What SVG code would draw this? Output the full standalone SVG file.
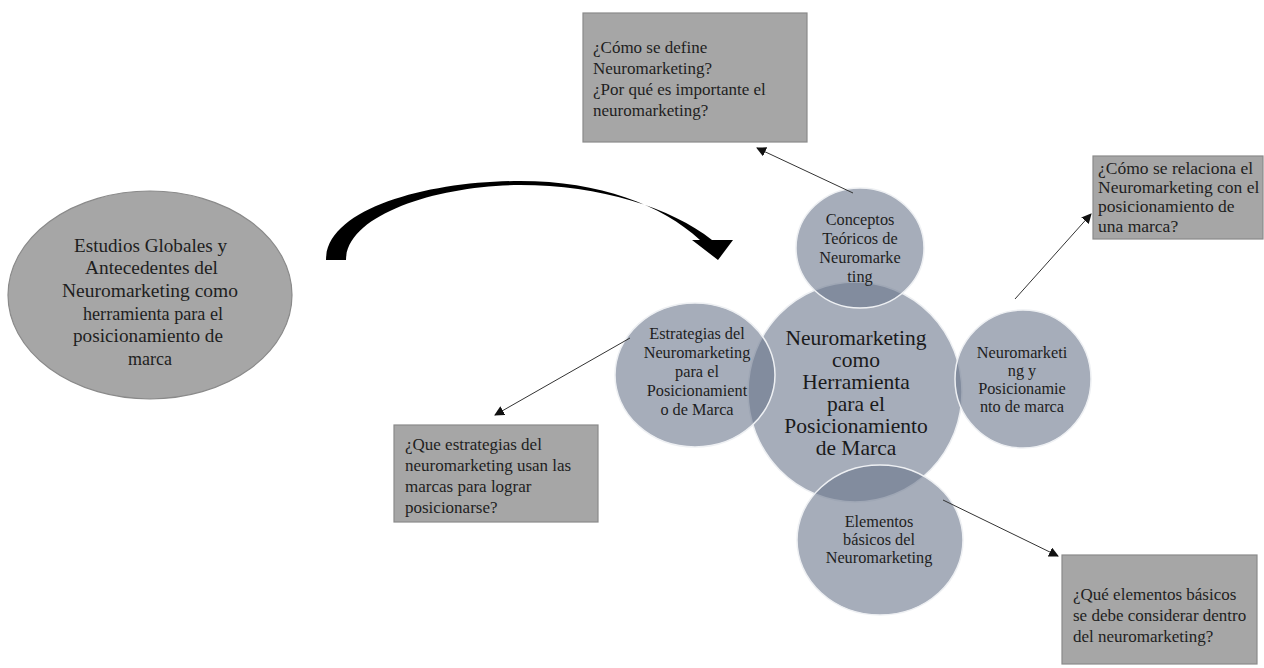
<svg xmlns="http://www.w3.org/2000/svg" width="1264" height="668" viewBox="0 0 1264 668">
<defs>
<style>
.box{fill:#a6a6a6;stroke:#8a8a8a;stroke-width:1.2}
.bt{font-family:"Liberation Serif","Times New Roman",serif;font-size:17px;fill:#1e1e1e}
.et{font-family:"Liberation Serif","Times New Roman",serif;font-size:18px;fill:#1e1e1e}
.ct{font-family:"Liberation Serif","Times New Roman",serif;font-size:16.3px;fill:#1e1e1e;text-anchor:middle}
.big{font-family:"Liberation Serif","Times New Roman",serif;font-size:21.5px;fill:#1a1a1a;text-anchor:middle}
.circ{fill:#6b778c;fill-opacity:0.6;stroke:#eef0f3;stroke-width:1.5}
.conn{stroke:#333;stroke-width:1;fill:none;marker-end:url(#ah)}
</style>
<marker id="ah" viewBox="0 0 10 10" refX="9" refY="5" markerWidth="10" markerHeight="10" markerUnits="userSpaceOnUse" orient="auto">
<path d="M0,0 L10,5 L0,10 Z" fill="#111"/>
</marker>
</defs>
<rect width="1264" height="668" fill="#fff"/>

<g id="n-estudios">
<ellipse cx="150" cy="295" rx="142" ry="104" fill="#a6a6a6" stroke="#8a8a8a" stroke-width="1.2"/>
<text class="et"><tspan x="74" y="252" textLength="153" lengthAdjust="spacingAndGlyphs">Estudios Globales y</tspan><tspan x="85" y="274" textLength="133" lengthAdjust="spacingAndGlyphs">Antecedentes del</tspan><tspan x="62" y="297" textLength="176" lengthAdjust="spacingAndGlyphs">Neuromarketing como</tspan><tspan x="83" y="320" textLength="140" lengthAdjust="spacingAndGlyphs">herramienta para el</tspan><tspan x="73" y="342" textLength="150" lengthAdjust="spacingAndGlyphs">posicionamiento de</tspan><tspan x="150" y="365" text-anchor="middle">marca</tspan></text>
</g>

<g id="big-arrow">
<path d="M326,260 C326,208 430,181 520,181 C600,181 662,205 700,240 L692,240 L718,260 L733,240 L712,240 C672,208 600,185 520,185 C440,185 346,214 346,260 Z" fill="#000"/>
</g>

<g id="circles">
<ellipse id="c-center" class="circ" cx="855" cy="392" rx="107" ry="110"/>
<ellipse id="c-top" class="circ" cx="860" cy="248" rx="64" ry="60"/>
<ellipse id="c-left" class="circ" cx="695" cy="375" rx="80" ry="72"/>
<ellipse id="c-right" class="circ" cx="1023" cy="379" rx="68" ry="69"/>
<ellipse id="c-bottom" class="circ" cx="880" cy="540" rx="83" ry="75"/>
</g>

<g id="n-center">
<text class="big"><tspan x="856" y="345">Neuromarketing</tspan><tspan x="856" y="367">como</tspan><tspan x="856" y="389">Herramienta</tspan><tspan x="856" y="411">para el</tspan><tspan x="856" y="433">Posicionamiento</tspan><tspan x="856" y="455">de Marca</tspan></text>
</g>
<g id="n-conceptos">
<text class="ct"><tspan x="860" y="225">Conceptos</tspan><tspan x="860" y="244">Teóricos de</tspan><tspan x="860" y="263">Neuromarke</tspan><tspan x="860" y="282">ting</tspan></text>
</g>
<g id="n-estrategias">
<text class="ct"><tspan x="697" y="339">Estrategias del</tspan><tspan x="697" y="358">Neuromarketing</tspan><tspan x="697" y="377">para el</tspan><tspan x="697" y="396">Posicionamient</tspan><tspan x="697" y="415">o de Marca</tspan></text>
</g>
<g id="n-neuropos">
<text class="ct"><tspan x="1022" y="358">Neuromarketi</tspan><tspan x="1022" y="376">ng y</tspan><tspan x="1022" y="394">Posicionamie</tspan><tspan x="1022" y="412">nto de marca</tspan></text>
</g>
<g id="n-elementos">
<text class="ct"><tspan x="879" y="527">Elementos</tspan><tspan x="879" y="545">básicos del</tspan><tspan x="879" y="563">Neuromarketing</tspan></text>
</g>

<g id="q-define">
<rect class="box" x="583" y="13" width="224" height="129"/>
<text class="bt"><tspan x="593" y="53">¿Cómo se define</tspan><tspan x="593" y="74">Neuromarketing?</tspan><tspan x="593" y="95">¿Por qué es importante el</tspan><tspan x="593" y="116">neuromarketing?</tspan></text>
</g>
<g id="q-relaciona">
<rect class="box" x="1093" y="156" width="170" height="83"/>
<text class="bt" style="font-size:17.5px"><tspan x="1098" y="174">¿Cómo se relaciona el</tspan><tspan x="1098" y="193">Neuromarketing con el</tspan><tspan x="1098" y="212">posicionamiento de</tspan><tspan x="1098" y="232">una marca?</tspan></text>
</g>
<g id="q-estrategias">
<rect class="box" x="394" y="425" width="204" height="97"/>
<text class="bt"><tspan x="405" y="450">¿Que estrategias del</tspan><tspan x="405" y="471">neuromarketing usan las</tspan><tspan x="405" y="492">marcas para lograr</tspan><tspan x="405" y="513">posicionarse?</tspan></text>
</g>
<g id="q-elementos">
<rect class="box" x="1062" y="555" width="195" height="109"/>
<text class="bt"><tspan x="1073" y="600">¿Qué elementos básicos</tspan><tspan x="1073" y="621">se debe considerar dentro</tspan><tspan x="1073" y="642">del neuromarketing?</tspan></text>
</g>

<g id="connectors">
<line class="conn" x1="853" y1="193" x2="757" y2="148"/>
<line class="conn" x1="1015" y1="299" x2="1091" y2="214"/>
<line class="conn" x1="630" y1="338" x2="495" y2="415"/>
<line class="conn" x1="943" y1="500" x2="1058" y2="556"/>
</g>
</svg>
